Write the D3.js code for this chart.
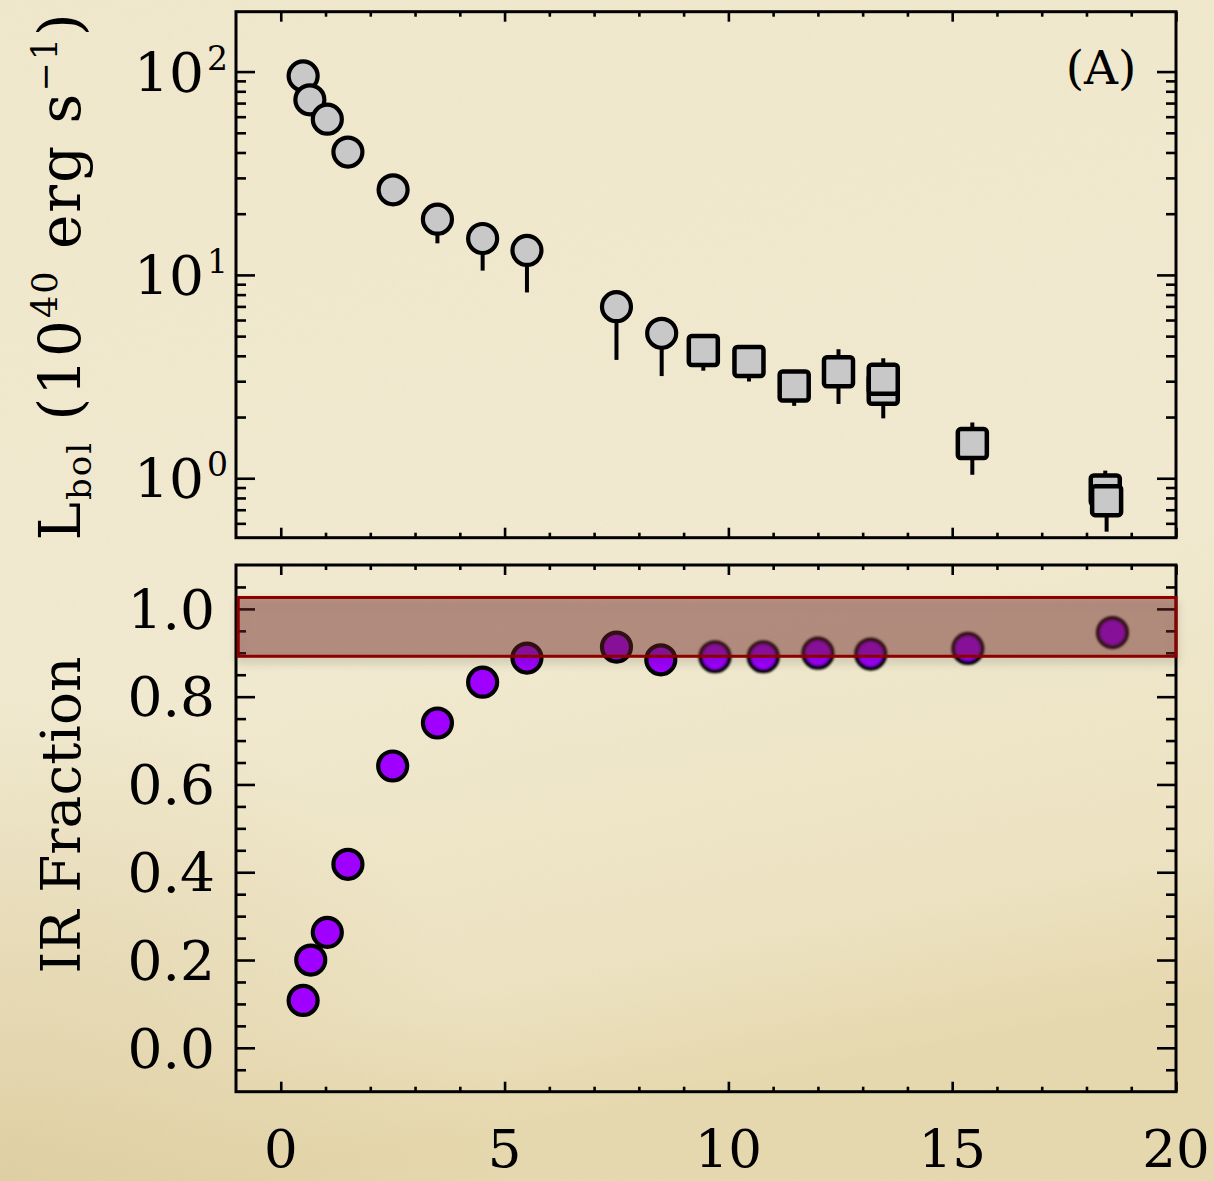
<!DOCTYPE html>
<html>
<head>
<meta charset="utf-8">
<script src="https://cdn.jsdelivr.net/npm/d3@7"></script>
<style>
  html, body { margin: 0; padding: 0; background: #f2ebd1; }
  svg { display: block; }
  text { font-family: "DejaVu Serif", serif; fill: #000; }
</style>
</head>
<body>
<svg id="chart" width="1214" height="1181"></svg>
<script>
// top panel: bolometric luminosity (1e40 erg/s) vs time
const lbolCircX  = [0.5, 0.65, 1.04, 1.5, 2.51, 3.5, 4.51, 5.5, 7.5, 8.51];
const lbolCircY  = [95.2, 72.6, 58.3, 40.2, 26.2, 18.8, 15.1, 13.2, 6.98, 5.16];
const lbolCircLo = [95.2, 72.6, 58.3, 40.2, 26.2, 14.3, 10.5, 8.2, 3.82, 3.18];

// square markers listed in drawing order (back first)
const lbolSqX  = [9.44, 10.46, 11.47, 12.46, 13.46, 13.46, 15.45, 18.42, 18.45];
const lbolSqY  = [4.25, 3.75, 2.84, 3.34, 2.74, 3.07, 1.48, 0.875, 0.776];
const lbolSqLo = [3.38, 2.99, 2.27, 2.32, 1.97, 3.07, 1.04, 0.875, 0.546];
const lbolSqHi = [4.25, 3.75, 2.84, 4.31, 2.74, 3.89, 1.88, 1.09, 0.776];

// bottom panel: IR fraction
const irX = [0.5, 0.67, 1.04, 1.5, 2.5, 3.5, 4.51, 5.5, 7.5, 8.49, 9.7, 10.78, 12.0, 13.18, 15.35, 18.58];
const irY = [0.108, 0.200, 0.263, 0.418, 0.642, 0.740, 0.833, 0.888, 0.913, 0.884, 0.891, 0.891, 0.899, 0.897, 0.910, 0.946];
const irBand = [0.892, 1.026];

const xTicks = [0, 5, 10, 15, 20];
const lbolTicks = [1, 10, 100];
const lbolExp = ["0", "1", "2"];
const irTicks = [0, 0.2, 0.4, 0.6, 0.8, 1.0];

const svg = d3.select("#chart");
const defs = svg.append("defs");

// paper background
const bg = defs.append("linearGradient").attr("id", "paper")
  .attr("x1", 0).attr("y1", 0).attr("x2", 0.2).attr("y2", 1);
bg.append("stop").attr("offset", 0).attr("stop-color", "#f2eacf");
bg.append("stop").attr("offset", 0.6).attr("stop-color", "#f3ecd3");
bg.append("stop").attr("offset", 0.88).attr("stop-color", "#efe5c4");
bg.append("stop").attr("offset", 1).attr("stop-color", "#e8dab0");

const corner = defs.append("radialGradient").attr("id", "corner")
  .attr("cx", 0.0).attr("cy", 1).attr("r", 0.42);
corner.append("stop").attr("offset", 0).attr("stop-color", "#d8c594").attr("stop-opacity", 0.55);
corner.append("stop").attr("offset", 1).attr("stop-color", "#d8c594").attr("stop-opacity", 0);

const grain = defs.append("filter").attr("id", "grain")
  .attr("x", 0).attr("y", 0).attr("width", 1).attr("height", 1);
grain.append("feTurbulence").attr("type", "fractalNoise")
  .attr("baseFrequency", 0.8).attr("numOctaves", 2).attr("seed", 4);
grain.append("feColorMatrix").attr("type", "matrix")
  .attr("values", "0 0 0 0 0.5  0 0 0 0 0.42  0 0 0 0 0.25  0 0 0 0.1 0");

const soft = defs.append("filter").attr("id", "soft")
  .attr("x", "-20%").attr("y", "-20%").attr("width", "140%").attr("height", "140%");
soft.append("feGaussianBlur").attr("stdDeviation", 0.9);

const shade = defs.append("filter").attr("id", "shade")
  .attr("x", "-5%").attr("y", "-60%").attr("width", "110%").attr("height", "220%");
shade.append("feGaussianBlur").attr("in", "SourceAlpha").attr("stdDeviation", 5).attr("result", "b");
shade.append("feOffset").attr("in", "b").attr("dy", 5).attr("result", "o");
shade.append("feComponentTransfer").attr("in", "o").attr("result", "s")
  .append("feFuncA").attr("type", "linear").attr("slope", 0.22);
const merge = shade.append("feMerge");
merge.append("feMergeNode").attr("in", "s");
merge.append("feMergeNode").attr("in", "SourceGraphic");

svg.append("rect").attr("width", 1214).attr("height", 1181).attr("fill", "url(#paper)");
svg.append("rect").attr("width", 1214).attr("height", 1181).attr("fill", "url(#corner)");
svg.append("rect").attr("width", 1214).attr("height", 1181).attr("filter", "url(#grain)");

// scales
const x = d3.scaleLinear().domain([-1, 20]).range([236, 1176]);
const yTop = d3.scaleLog().domain([0.51, 197]).range([537.7, 11.7]);
const yBot = d3.scaleLinear().domain([-0.1, 1.1]).range([1091.7, 565]);

const xMinor = d3.range(0, 20).filter(v => v % 5 !== 0);
const logMinor = [];
[0.1, 1, 10, 100].forEach(d => { for (let k = 2; k <= 9; k++) logMinor.push(d * k); });
const topMinor = logMinor.filter(v => v > 0.51 && v < 197);
const irMinor = d3.range(-0.05, 1.1, 0.05).map(v => +v.toFixed(2))
  .filter(v => Math.abs(Math.round(v * 5) - v * 5) > 1e-6);

function tickAxis(g, axis) {
  g.call(axis);
  g.select(".domain").remove();
  g.selectAll("line").attr("stroke", "#000").attr("stroke-width", 2.6);
  g.selectAll("text").remove();
}

function framePanel(yScale, yMajor, yMinor, y0, y1) {
  const g = svg.append("g");
  const xl = 236, xr = 1176;
  // x ticks on bottom and top edges, pointing inward
  g.append("g").attr("transform", `translate(0,${y1})`)
    .call(s => tickAxis(s, d3.axisTop(x).tickValues(xTicks).tickSize(10)));
  g.append("g").attr("transform", `translate(0,${y1})`)
    .call(s => tickAxis(s, d3.axisTop(x).tickValues(xMinor).tickSize(5)));
  g.append("g").attr("transform", `translate(0,${y0})`)
    .call(s => tickAxis(s, d3.axisBottom(x).tickValues(xTicks).tickSize(10)));
  g.append("g").attr("transform", `translate(0,${y0})`)
    .call(s => tickAxis(s, d3.axisBottom(x).tickValues(xMinor).tickSize(5)));
  // y ticks on left and right edges
  g.append("g").attr("transform", `translate(${xl},0)`)
    .call(s => tickAxis(s, d3.axisRight(yScale).tickValues(yMajor).tickSize(19)));
  g.append("g").attr("transform", `translate(${xl},0)`)
    .call(s => tickAxis(s, d3.axisRight(yScale).tickValues(yMinor).tickSize(10)));
  g.append("g").attr("transform", `translate(${xr},0)`)
    .call(s => tickAxis(s, d3.axisLeft(yScale).tickValues(yMajor).tickSize(19)));
  g.append("g").attr("transform", `translate(${xr},0)`)
    .call(s => tickAxis(s, d3.axisLeft(yScale).tickValues(yMinor).tickSize(10)));
  g.append("rect").attr("x", xl).attr("y", y0).attr("width", xr - xl).attr("height", y1 - y0)
    .attr("fill", "none").attr("stroke", "#000").attr("stroke-width", 3);
}

// ---- top panel ----
framePanel(yTop, lbolTicks, topMinor, 11.7, 537.7);

const topG = svg.append("g");

// circle error bars: only the lower half shows below the marker
topG.selectAll("line.cerr").data(lbolCircX).enter().append("line")
  .attr("class", "cerr")
  .attr("x1", d => x(d)).attr("x2", d => x(d))
  .attr("y1", (d, i) => yTop(lbolCircLo[i])).attr("y2", (d, i) => yTop(lbolCircY[i]))
  .attr("stroke", "#000").attr("stroke-width", 4);

topG.selectAll("circle").data(lbolCircX).enter().append("circle")
  .attr("cx", d => x(d)).attr("cy", (d, i) => yTop(lbolCircY[i]))
  .attr("r", 14.5).attr("fill", "#c8c8c8").attr("stroke", "#000").attr("stroke-width", 4.2);

// each square with its own error bar so overlaps stack correctly
const sq = topG.selectAll("g.sq").data(lbolSqX).enter().append("g").attr("class", "sq");
sq.append("line")
  .attr("x1", d => x(d)).attr("x2", d => x(d))
  .attr("y1", (d, i) => yTop(lbolSqLo[i])).attr("y2", (d, i) => yTop(lbolSqHi[i]))
  .attr("stroke", "#000").attr("stroke-width", 4);
sq.append("rect")
  .attr("x", d => x(d) - 14.5).attr("y", (d, i) => yTop(lbolSqY[i]) - 14.5)
  .attr("width", 29).attr("height", 29).attr("rx", 3)
  .attr("fill", "#c8c8c8").attr("stroke", "#000").attr("stroke-width", 4.5);

svg.append("text").attr("x", 1101).attr("y", 84).attr("text-anchor", "middle")
  .attr("font-size", 47).text("(A)");

// top y tick labels: 10^n
lbolTicks.forEach((v, i) => {
  const t = svg.append("text").attr("x", 228).attr("y", yTop(v) + 20)
    .attr("text-anchor", "end").attr("font-size", 55);
  t.append("tspan").text("10");
  t.append("tspan").attr("font-size", 33).attr("dy", -22).attr("dx", 3).text(lbolExp[i]);
});

// top y title
const t1 = svg.append("text")
  .attr("transform", "translate(80,276) rotate(-90)")
  .attr("text-anchor", "middle").attr("font-size", 58).attr("letter-spacing", 2);
t1.append("tspan").text("L");
t1.append("tspan").attr("font-size", 34).attr("dy", 11).text("bol");
t1.append("tspan").attr("dy", -11).text(" (10");
t1.append("tspan").attr("font-size", 35).attr("dy", -23).text("40");
t1.append("tspan").attr("dy", 23).text(" erg s");
t1.append("tspan").attr("font-size", 35).attr("dy", -23).text("\u22121");
t1.append("tspan").attr("dy", 23).text(")");

// ---- bottom panel ----
framePanel(yBot, irTicks, irMinor, 565, 1091.7);

const botG = svg.append("g");
botG.selectAll("circle").data(irX).enter().append("circle")
  .attr("cx", d => x(d)).attr("cy", (d, i) => yBot(irY[i]))
  .attr("r", 14.5).attr("fill", "#9f00ff").attr("stroke", "#000").attr("stroke-width", 4.2)
  .attr("filter", (d, i) => i >= 10 ? "url(#soft)" : null);

botG.append("rect")
  .attr("x", x(-0.95)).attr("y", yBot(irBand[1]))
  .attr("width", x(20) - x(-0.95)).attr("height", yBot(irBand[0]) - yBot(irBand[1]))
  .attr("fill", "rgb(111,40,40)").attr("fill-opacity", 0.42)
  .attr("stroke", "#8c0000").attr("stroke-width", 3)
  .attr("filter", "url(#shade)");

irTicks.forEach(v => {
  svg.append("text").attr("x", 215).attr("y", yBot(v)).attr("dy", "0.36em")
    .attr("text-anchor", "end").attr("font-size", 55).text(v.toFixed(1));
});

xTicks.forEach(v => {
  svg.append("text").attr("x", x(v)).attr("y", 1167)
    .attr("text-anchor", "middle").attr("font-size", 53).text(v);
});

svg.append("text")
  .attr("transform", "translate(80,815) rotate(-90)")
  .attr("text-anchor", "middle").attr("font-size", 55).text("IR Fraction");
</script>
</body>
</html>
